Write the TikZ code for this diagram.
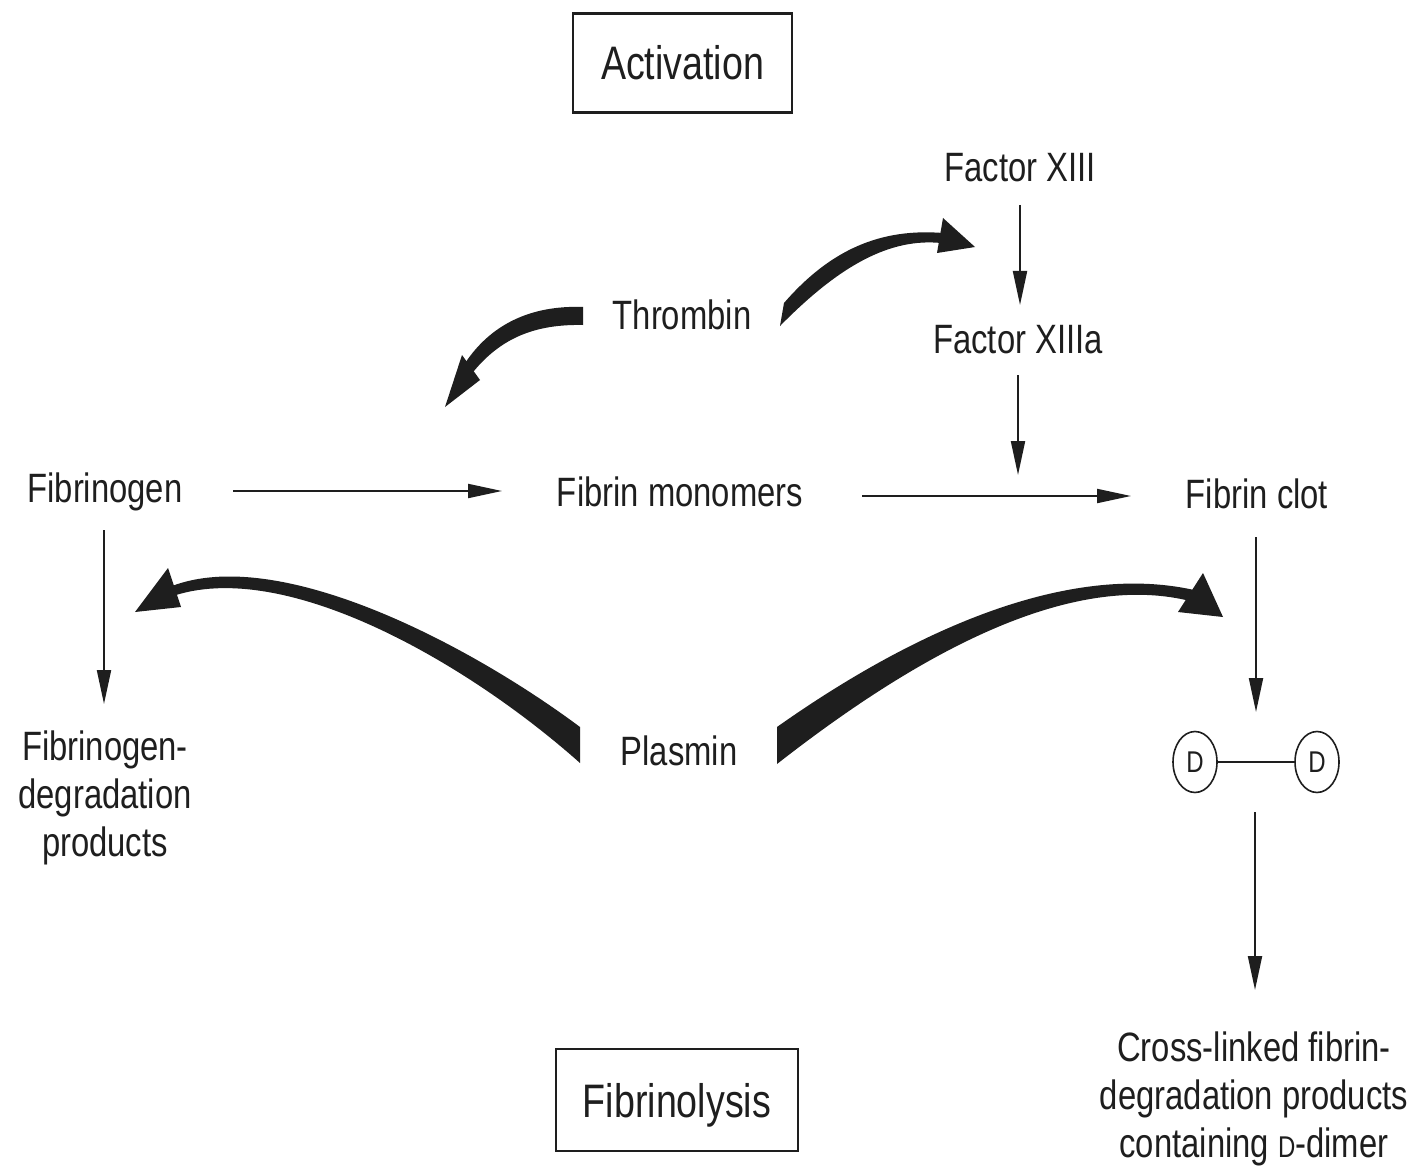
\documentclass[tikz,border=0pt]{standalone}
\usepackage{fontspec}
\setmainfont{Liberation Sans}[FakeStretch=0.8]
\usetikzlibrary{arrows.meta,shapes.geometric}
\definecolor{ink}{HTML}{1E1E1E}
\begin{document}
\begin{tikzpicture}[x=1pt,y=-1pt,
  lab/.style={inner sep=0pt, anchor=base, text=ink, font=\fontsize{41}{48}\selectfont},
  boxlab/.style={draw=ink, line width=2.2pt, inner sep=0pt, anchor=base, text=ink,
    font=\fontsize{47}{52}\selectfont, text height=34pt, text depth=0pt},
  thinarrow/.style={draw=ink, line width=2pt, -{Triangle[length=34pt,width=14pt]}},
  thickfill/.style={fill=ink},
  dball/.style={draw=ink, line width=1.6pt, ellipse, minimum width=44pt, minimum height=61pt,
    inner sep=0pt, font=\fontsize{30}{30}\selectfont, text=ink}
]
\useasboundingbox (0,0) rectangle (1424,1166);
\fill[white] (0,0) rectangle (1424,1166);

% labels
\node[boxlab, minimum width=219pt, minimum height=99pt] (act) at (682.5,80) {Activation};
\node[boxlab, minimum width=242pt, minimum height=102pt] (fly) at (677,1117) {Fibrinolysis};
\node[lab] (f13) at (1020,182) {Factor XIII};
\node[lab] (f13a) at (1018,353) {Factor XIIIa};
\node[lab] (thr) at (682,330) {Thrombin};
\node[lab] (fgn) at (105,502) {Fibrinogen};
\node[lab] (fmono) at (680,506) {Fibrin monomers};
\node[lab] (fclot) at (1257,508) {Fibrin clot};
\node[lab] (pla) at (679,765) {Plasmin};
\node[lab] (fdp) at (105,760) {\begin{tabular}[t]{@{}c@{}}Fibrinogen-\\degradation\\products\end{tabular}};
\node[lab] (xl) at (1254,1061) {\begin{tabular}[t]{@{}c@{}}Cross-linked fibrin-\\degradation products\\containing {\fontsize{30}{30}\selectfont D}-dimer\end{tabular}};
\node[dball] (d1) at (1195,762) {D};
\node[dball] (d2) at (1317,762) {D};

% connector end points
\coordinate (a1s) at (1020,205); \coordinate (a1e) at (1020,305);
\coordinate (a2s) at (1018,375); \coordinate (a2e) at (1018,475);
\coordinate (a3s) at (104,530);  \coordinate (a3e) at (104,704);
\coordinate (a4s) at (1256,537); \coordinate (a4e) at (1256,712);
\coordinate (a5s) at (1255,812); \coordinate (a5e) at (1255,990);
\coordinate (a6s) at (233,491);  \coordinate (a6e) at (502,491);
\coordinate (a7s) at (862,496);  \coordinate (a7e) at (1131,496);

% thin arrows
\draw[thinarrow] (a1s) -- (a1e);
\draw[thinarrow] (a2s) -- (a2e);
\draw[thinarrow] (a3s) -- (a3e);
\draw[thinarrow] (a4s) -- (a4e);
\draw[thinarrow] (a5s) -- (a5e);
\draw[thinarrow] (a6s) -- (a6e);
\draw[thinarrow] (a7s) -- (a7e);
\draw[draw=ink, line width=2pt] (d1) -- (d2);

% thick tapered arrows
% Thrombin -> fibrinogen conversion
\fill[thickfill] (583,307) .. controls (530,305) and (490,325) .. (464.5,364)
  -- (471.5,374) .. controls (500,338) and (535,324) .. (583,325) -- cycle;
\fill[thickfill] (462,355) -- (445,407) -- (480,380) -- cycle;
% Thrombin -> Factor XIII
\fill[thickfill] (784,303) .. controls (830,250) and (880,228) .. (943,233)
  -- (941,243) .. controls (890,238) and (840,265) .. (780,326) -- cycle;
\fill[thickfill] (943,218) -- (975,247) -- (937,253) -- cycle;
% Plasmin -> Fibrinogen
\fill[thickfill] (580,727) .. controls (470,645) and (280,545) .. (172,586)
  -- (176,595) .. controls (290,560) and (470,665) .. (580,763) -- cycle;
\fill[thickfill] (168,568) -- (135,612) -- (181,607) -- cycle;
% Plasmin -> Fibrin clot
\fill[thickfill] (777,727) .. controls (900,640) and (1060,560) .. (1194,590)
  -- (1190,601) .. controls (1065,570) and (910,660) .. (777,764) -- cycle;
\fill[thickfill] (1203,573) -- (1223,617) -- (1178,612) -- cycle;
\end{tikzpicture}
\end{document}
